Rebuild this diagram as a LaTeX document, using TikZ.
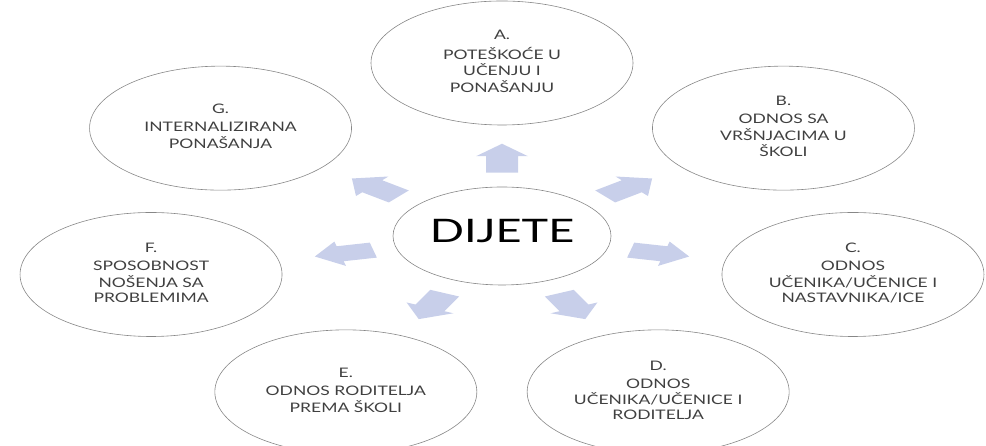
\documentclass[tikz,border=0pt]{standalone}
\usepackage{fontspec}
\setmainfont{Lato}
\usepackage{graphicx}
\usepackage{tikz}
\usetikzlibrary{shapes.geometric,calc}
\definecolor{rim}{RGB}{135,135,135}
\definecolor{pale}{RGB}{200,207,234}
\definecolor{ink}{RGB}{64,64,64}
\newcommand{\squash}[2][0.75]{\scalebox{1}[#1]{\begin{tabular}{@{}c@{}}#2\end{tabular}}}

\begin{document}
\begin{tikzpicture}[x=1pt, y=1pt, line width=0.6pt]
\tikzstyle{bubble}=[ellipse, draw=rim, minimum width=262, minimum height=124, inner sep=0pt, text=ink, font=\fontsize{17.5}{20}\selectfont]
\tikzstyle{core}=[bubble, minimum width=218, minimum height=98, text=black, font=\fontsize{45}{45}\selectfont]
\tikzstyle{fat}=[fill=pale, draw=none]
\useasboundingbox (0,0) rectangle (986,446);
\node[core] (X) at (502,210) {\squash[0.72]{DIJETE}};
\foreach \n/\ang/\txt in {A/90/{A.\\[4pt]POTEŠKOĆE U\\UČENJU I\\PONAŠANJU},
    B/38.57/{B.\\[4pt]ODNOS SA\\VRŠNJACIMA U\\ŠKOLI},
    C/-12.86/{C.\\[4pt]ODNOS\\UČENIKA/UČENICE I\\NASTAVNIKA/ICE},
    D/-64.29/{D.\\[4pt]ODNOS\\UČENIKA/UČENICE I\\RODITELJA},
    E/-115.71/{E.\\[4pt]ODNOS RODITELJA\\PREMA ŠKOLI},
    F/-167.14/{F.\\[4pt]SPOSOBNOST\\NOŠENJA SA\\PROBLEMIMA},
    G/141.43/{G.\\[4pt]INTERNALIZIRANA\\PONAŠANJA}}
{
  \node[bubble] (\n) at ($(X)+(\ang:360 and 173)$) {\squash{\txt}};
  \fill[fat, shift={($(X)!0.45!(\n)$)}, yscale=0.48, rotate=\ang] (-30,-16) -- (4,-16) -- (4,-26) -- (30,0) -- (4,26) -- (4,16) -- (-30,16) -- cycle;
}
\end{tikzpicture}
\end{document}
